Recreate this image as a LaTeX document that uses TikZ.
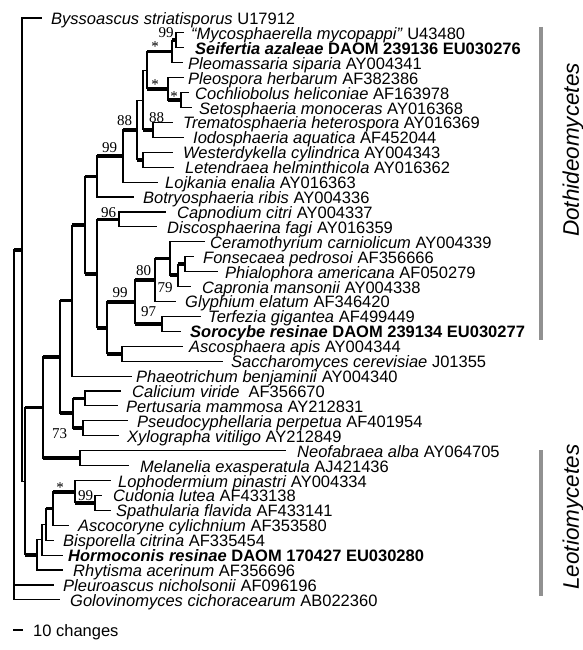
\documentclass[tikz,border=0pt]{standalone}
\usepackage{fontspec}
\setmainfont{Liberation Sans}
\newfontfamily\bsserif{Liberation Serif}
\definecolor{grpgray}{RGB}{145,145,145}
\newcommand\trEdge[2]{\draw[br] (#1) |- (#2);}
\newcommand\trSup[2]{\draw[br] (#1) |- (#2); \draw[sup] (#1 |- #2) -- (#2);}
\newcommand\leafrow[5]{\coordinate (e#1) at (#3,#2); \node[leaf] (t#1) at (#4,#2+6.5) {#5};}
\tikzset{
  br/.style={line width=1.1pt, line cap=rect},
  sup/.style={line width=3.8pt},
  leaf/.style={anchor=base west, inner sep=0pt, font=\fontsize{16.5}{18}\selectfont},
  bs/.style={anchor=base, inner sep=0pt, font=\bsserif\fontsize{15}{16}\selectfont},
  grp/.style={line width=4pt, draw=grpgray},
  grplab/.style={rotate=90, inner sep=0pt, font=\fontsize{22.5}{24}\selectfont\itshape}
}
\begin{document}
\begin{tikzpicture}[x=1pt,y=-1pt]
\useasboundingbox (0,0) rectangle (582,650);
% leaves: index, y, line end, text x, text
\leafrow{1}{18.00}{41}{51}{\textit{Byssoascus striatisporus} U17912}
\leafrow{2}{32.92}{183}{191}{\textit{“Mycosphaerella mycopappi”} U43480}
\leafrow{3}{47.84}{183}{195}{\textbf{\textit{Seifertia azaleae} DAOM 239136 EU030276}}
\leafrow{4}{62.76}{182}{188}{\textit{Pleomassaria siparia} AY004341}
\leafrow{5}{77.68}{183}{188}{\textit{Pleospora herbarum} AF382386}
\leafrow{6}{92.60}{188}{195}{\textit{Cochliobolus heliconiae} AF163978}
\leafrow{7}{107.52}{191}{199}{\textit{Setosphaeria monoceras} AY016368}
\leafrow{8}{122.44}{172}{183}{\textit{Trematosphaeria heterospora} AY016369}
\leafrow{9}{137.36}{183}{193}{\textit{Iodosphaeria aquatica} AF452044}
\leafrow{10}{152.28}{172}{183}{\textit{Westerdykella cylindrica} AY004343}
\leafrow{11}{167.20}{173}{185}{\textit{Letendraea helminthicola} AY016362}
\leafrow{12}{182.12}{157}{165}{\textit{Lojkania enalia} AY016363}
\leafrow{13}{197.04}{133}{143}{\textit{Botryosphaeria ribis} AY004336}
\leafrow{14}{211.96}{165}{177}{\textit{Capnodium citri} AY004337}
\leafrow{15}{226.88}{156}{167}{\textit{Discosphaerina fagi} AY016359}
\leafrow{16}{241.80}{204}{210}{\textit{Ceramothyrium carniolicum} AY004339}
\leafrow{17}{256.72}{193}{203}{\textit{Fonsecaea pedrosoi} AF356666}
\leafrow{18}{271.64}{217}{225}{\textit{Phialophora americana} AF050279}
\leafrow{19}{286.56}{190}{202}{\textit{Capronia mansonii} AY004338}
\leafrow{20}{301.48}{175}{185}{\textit{Glyphium elatum} AF346420}
\leafrow{21}{316.40}{200}{208}{\textit{Terfezia gigantea} AF499449}
\leafrow{22}{331.32}{180}{190}{\textbf{\textit{Sorocybe resinae} DAOM 239134 EU030277}}
\leafrow{23}{346.24}{182}{189}{\textit{Ascosphaera apis} AY004344}
\leafrow{24}{361.16}{222}{231}{\textit{Saccharomyces cerevisiae} J01355}
\leafrow{25}{376.08}{131}{136}{\textit{Phaeotrichum benjaminii} AY004340}
\leafrow{26}{391.00}{120}{132}{\textit{Calicium viride}\ \ AF356670}
\leafrow{27}{405.92}{117}{126}{\textit{Pertusaria mammosa} AY212831}
\leafrow{28}{420.84}{127}{137}{\textit{Pseudocyphellaria perpetua} AF401954}
\leafrow{29}{435.76}{118}{127}{\textit{Xylographa vitiligo} AY212849}
\leafrow{30}{450.68}{285}{297}{\textit{Neofabraea alba} AY064705}
\leafrow{31}{465.60}{128}{140}{\textit{Melanelia exasperatula} AJ421436}
\leafrow{32}{480.52}{110}{118}{\textit{Lophodermium pinastri} AY004334}
\leafrow{33}{495.44}{101}{113}{\textit{Cudonia lutea} AF433138}
\leafrow{34}{510.36}{110}{116}{\textit{Spathularia flavida} AF433141}
\leafrow{35}{525.28}{68}{78}{\textit{Ascocoryne cylichnium} AF353580}
\leafrow{36}{540.20}{53}{63}{\textit{Bisporella citrina} AF335454}
\leafrow{37}{555.12}{62}{68}{\textbf{\textit{Hormoconis resinae} DAOM 170427 EU030280}}
\leafrow{38}{570.04}{62}{73}{\textit{Rhytisma acerinum} AF356696}
\leafrow{39}{584.96}{53}{63}{\textit{Pleuroascus nicholsonii} AF096196}
\leafrow{40}{599.88}{59}{70}{\textit{Golovinomyces cichoracearum} AB022360}
% internal nodes
\coordinate (n0) at (14,424.75);
\coordinate (nA) at (22,249.62);
\coordinate (nD) at (25,481.23);
\coordinate (nC) at (43,407.56);
\coordinate (nE) at (60,356.98);
\coordinate (nH) at (72,300.58);
\coordinate (nI) at (85,225.08);
\coordinate (nJ) at (97,176.53);
\coordinate (nM) at (123,156.01);
\coordinate (nN) at (137,129.90);
\coordinate (nP) at (143,100.06);
\coordinate (nR) at (147,70.22);
\coordinate (nT) at (172,51.57);
\coordinate (nV) at (176,40.38);
\coordinate (nU) at (168,88.87);
\coordinate (nUb) at (181,100.06);
\coordinate (nS) at (153,129.90);
\coordinate (nQ) at (143,159.74);
\coordinate (nK) at (97,273.62);
\coordinate (nW) at (119,219.42);
\coordinate (nX) at (107,327.83);
\coordinate (nZ) at (135,301.95);
\coordinate (nAA) at (155,280.03);
\coordinate (nAC) at (170,258.59);
\coordinate (nAD) at (178,275.37);
\coordinate (nAE) at (185,264.18);
\coordinate (nAB) at (162,323.86);
\coordinate (nY) at (122,353.70);
\coordinate (nG) at (73,413.38);
\coordinate (nGa) at (85,398.46);
\coordinate (nGb) at (83,428.30);
\coordinate (nF) at (80,458.14);
\coordinate (nL) at (37,554.89);
\coordinate (nAF) at (42,539.74);
\coordinate (nAG) at (46,524.35);
\coordinate (nAH) at (53,508.50);
\coordinate (nAI) at (75,491.71);
\coordinate (nAJ) at (95,502.90);
% edges
\trSup{n0}{nA} \trEdge{n0}{e39} \trEdge{n0}{e40}
\trEdge{nA}{e1} \trEdge{nA}{nD}
\trSup{nD}{nC} \trSup{nD}{nL}
\trSup{nC}{nE} \trSup{nC}{nF}
\trSup{nE}{nH} \trSup{nE}{nG}
\trSup{nH}{nI} \trEdge{nH}{e25}
\trSup{nI}{nJ} \trSup{nI}{nK}
\trSup{nJ}{nM} \trEdge{nJ}{e13}
\trSup{nM}{nN} \trEdge{nM}{e12}
\trEdge{nN}{nP} \trSup{nN}{nQ}
\trEdge{nP}{nR} \trSup{nP}{nS}
\trSup{nR}{nT} \trSup{nR}{nU}
\trSup{nT}{nV} \trEdge{nT}{e4}
\trEdge{nV}{e2} \trEdge{nV}{e3}
\trEdge{nU}{e5} \trSup{nU}{nUb}
\trEdge{nUb}{e6} \trEdge{nUb}{e7}
\trEdge{nS}{e8} \trEdge{nS}{e9}
\trEdge{nQ}{e10} \trEdge{nQ}{e11}
\trSup{nK}{nW} \trSup{nK}{nX}
\trEdge{nW}{e14} \trEdge{nW}{e15}
\trSup{nX}{nZ} \trSup{nX}{nY}
\trSup{nZ}{nAA} \trSup{nZ}{nAB}
\trSup{nAA}{nAC} \trEdge{nAA}{e20}
\trEdge{nAC}{e16} \trSup{nAC}{nAD}
\trSup{nAD}{nAE} \trEdge{nAD}{e19}
\trEdge{nAE}{e17} \trEdge{nAE}{e18}
\trEdge{nAB}{e21} \trEdge{nAB}{e22}
\trEdge{nY}{e23} \trEdge{nY}{e24}
\trSup{nG}{nGa} \trSup{nG}{nGb}
\trEdge{nGa}{e26} \trEdge{nGa}{e27}
\trEdge{nGb}{e28} \trEdge{nGb}{e29}
\trEdge{nF}{e30} \trEdge{nF}{e31}
\trEdge{nL}{nAF} \trEdge{nL}{e38}
\trEdge{nAF}{nAG} \trEdge{nAF}{e37}
\trSup{nAG}{nAH} \trEdge{nAG}{e36}
\trSup{nAH}{nAI} \trEdge{nAH}{e35}
\trEdge{nAI}{e32} \trSup{nAI}{nAJ}
\trEdge{nAJ}{e33} \trEdge{nAJ}{e34}
% support values
\node[bs] (s1) at (166,38) {99};
\node[bs] (s2) at (155,52) {*};
\node[bs] (s3) at (155,90) {*};
\node[bs] (s4) at (174,101.5) {*};
\node[bs] (s5) at (156.5,122) {88};
\node[bs] (s6) at (124.5,125) {88};
\node[bs] (s7) at (109.5,152) {99};
\node[bs] (s8) at (108.5,217) {96};
\node[bs] (s9) at (143.5,275) {80};
\node[bs] (s10) at (165,292) {79};
\node[bs] (s11) at (120,297) {99};
\node[bs] (s12) at (148.5,316) {97};
\node[bs] (s13) at (59.5,438) {73};
\node[bs] (s14) at (60,492) {*};
\node[bs] (s15) at (85.5,500) {99};
% group bars
\coordinate (g1) at (541,27); \coordinate (g2) at (541,340);
\coordinate (g3) at (541,450); \coordinate (g4) at (541,596);
\draw[grp] (g1) -- (g2);
\draw[grp] (g3) -- (g4);
\node[grplab] (lab1) at (573,150) {Dothideomycetes};
\node[grplab] (lab2) at (573,517) {Leotiomycetes};
% scale bar
\coordinate (sb1) at (13,630); \coordinate (sb2) at (23,630);
\draw[line width=1.2pt] (sb1) -- (sb2);
\node[leaf] (sbt) at (33,636) {10 changes};
\end{tikzpicture}
\end{document}
